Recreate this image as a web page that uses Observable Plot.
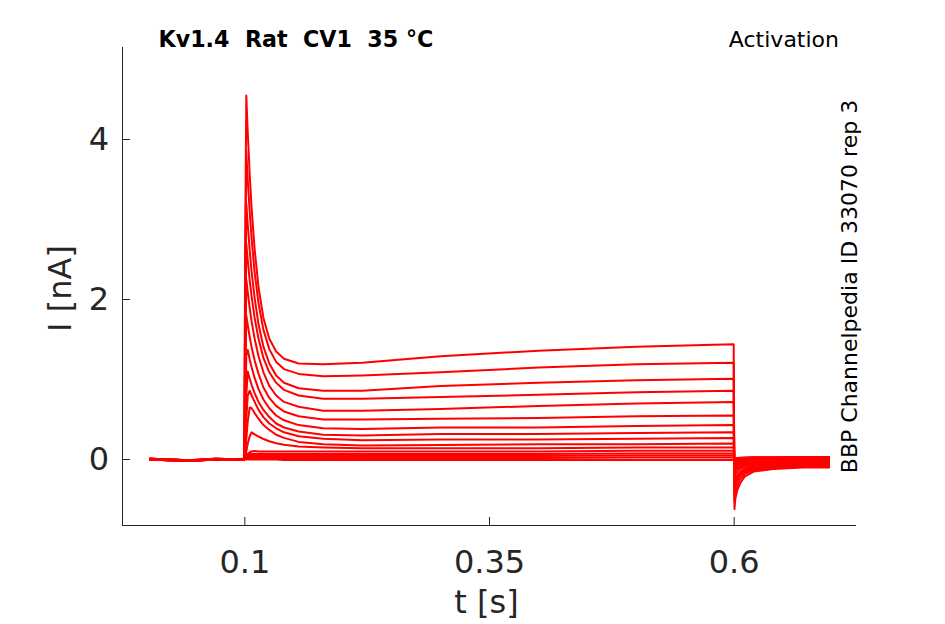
<!DOCTYPE html>
<html>
<head>
<meta charset="utf-8">
<script src="https://cdn.jsdelivr.net/npm/d3@7"></script>
<script src="https://cdn.jsdelivr.net/npm/@observablehq/plot@0.6"></script>
<style>
  html, body { margin: 0; padding: 0; background: #fff; }
  #chart { width: 945px; height: 624px; }
</style>
</head>
<body>
<div id="chart"></div>
<script>
// ---- data ----
const titleText = "Kv1.4  Rat  CV1  35 °C";
const protocolText = "Activation";
const sideText = "BBP Channelpedia ID 33070 rep 3";
const xLabel = "t [s]";
const yLabel = "I [nA]";
const xTicks = [0.1, 0.35, 0.6];
const yTicks = [0, 2, 4];
const xDomain = [-0.025, 0.725];
const yDomain = [-0.825, 5.15];

// sample times (s)
const times = [0.003, 0.042, 0.07, 0.0995, 0.1003, 0.1015, 0.103, 0.105, 0.107, 0.110, 0.114, 0.119, 0.125, 0.132, 0.14,
  0.155, 0.18, 0.22, 0.30, 0.40, 0.50, 0.5995,
  0.6003, 0.6012, 0.603, 0.606, 0.611, 0.62, 0.64, 0.67, 0.697];

// current (nA) of each sweep at those times
const sweep01 = [0, -0.02, 0, 0, 2.6, 4.55, 4.08, 3.56, 3.13, 2.63, 2.15, 1.77, 1.51, 1.35, 1.26,
  1.20, 1.19, 1.21, 1.29, 1.36, 1.41, 1.44,
  -0.62, -0.49, -0.39, -0.30, -0.21, -0.15, -0.12, -0.10, -0.10];
const sweep02 = [0.01, -0.01, 0.01, 0, 2.2, 3.85, 3.49, 3.09, 2.75, 2.34, 1.95, 1.62, 1.38, 1.22, 1.13,
  1.07, 1.04, 1.05, 1.09, 1.15, 1.19, 1.21,
  -0.52, -0.41, -0.33, -0.25, -0.18, -0.13, -0.11, -0.09, -0.09];
const sweep03 = [0, -0.02, 0, 0, 1.8, 3.2, 2.93, 2.61, 2.34, 2.02, 1.69, 1.41, 1.20, 1.05, 0.96,
  0.89, 0.86, 0.86, 0.92, 0.96, 0.99, 1.01,
  -0.43, -0.34, -0.27, -0.21, -0.16, -0.115, -0.095, -0.08, -0.08];
const sweep04 = [0.01, -0.01, 0, 0.01, 1.3, 2.7, 2.49, 2.24, 2.03, 1.77, 1.51, 1.27, 1.09, 0.96, 0.87,
  0.80, 0.76, 0.76, 0.78, 0.81, 0.84, 0.86,
  -0.37, -0.295, -0.235, -0.18, -0.135, -0.10, -0.08, -0.07, -0.07];
const sweep05 = [0, -0.02, 0.01, 0, 1.0, 2.25, 2.09, 1.89, 1.72, 1.51, 1.29, 1.09, 0.92, 0.80, 0.72,
  0.66, 0.61, 0.61, 0.63, 0.67, 0.70, 0.72,
  -0.31, -0.25, -0.20, -0.155, -0.115, -0.085, -0.07, -0.06, -0.06];
const sweep06 = [0.01, -0.01, 0, 0.01, 0.8, 1.8, 1.68, 1.53, 1.40, 1.24, 1.07, 0.90, 0.77, 0.67, 0.60,
  0.54, 0.50, 0.50, 0.51, 0.52, 0.54, 0.55,
  -0.24, -0.19, -0.155, -0.12, -0.09, -0.07, -0.058, -0.05, -0.05];
const sweep07 = [0, -0.02, 0, 0, 0.5, 1.3, 1.37, 1.25, 1.15, 1.02, 0.88, 0.75, 0.64, 0.55, 0.49,
  0.43, 0.39, 0.38, 0.40, 0.40, 0.42, 0.43,
  -0.19, -0.15, -0.12, -0.097, -0.073, -0.055, -0.046, -0.04, -0.04];
const sweep08 = [0.01, -0.01, 0.01, 0, 0.3, 0.8, 1.1, 1.01, 0.93, 0.83, 0.72, 0.62, 0.53, 0.45, 0.40,
  0.35, 0.31, 0.30, 0.32, 0.32, 0.33, 0.34,
  -0.15, -0.12, -0.096, -0.076, -0.056, -0.042, -0.035, -0.03, -0.03];
const sweep09 = [0, -0.02, 0, 0.01, 0.15, 0.5, 0.8, 0.86, 0.80, 0.72, 0.62, 0.53, 0.45, 0.39, 0.34,
  0.29, 0.26, 0.24, 0.25, 0.25, 0.26, 0.27,
  -0.12, -0.095, -0.075, -0.058, -0.042, -0.03, -0.024, -0.02, -0.02];
const sweep10 = [0.01, -0.01, 0, 0, 0.06, 0.25, 0.48, 0.65, 0.64, 0.58, 0.51, 0.43, 0.37, 0.31, 0.27,
  0.22, 0.19, 0.175, 0.18, 0.19, 0.19, 0.20,
  -0.09, -0.072, -0.058, -0.047, -0.035, -0.027, -0.023, -0.02, -0.02];
const sweep11 = [0, -0.02, 0.01, 0, 0.03, 0.1, 0.2, 0.29, 0.34, 0.315, 0.285, 0.256, 0.228, 0.204, 0.185,
  0.163, 0.15, 0.14, 0.14, 0.14, 0.15, 0.15,
  -0.07, -0.055, -0.043, -0.033, -0.023, -0.016, -0.012, -0.01, -0.01];
const sweep12 = [0.01, -0.01, 0, 0.01, 0.02, 0.05, 0.07, 0.09, 0.10, 0.105, 0.10, 0.10, 0.10, 0.10, 0.10,
  0.10, 0.10, 0.10, 0.10, 0.10, 0.11, 0.11,
  -0.05, -0.038, -0.028, -0.019, -0.011, -0.005, -0.002, 0, 0];
const sweep13 = [0, -0.02, 0, 0, 0.04, 0.07, 0.07, 0.07, 0.07, 0.07, 0.07, 0.07, 0.07, 0.07, 0.07,
  0.07, 0.07, 0.07, 0.07, 0.07, 0.075, 0.075,
  -0.03, -0.02, -0.012, -0.005, 0.001, 0.006, 0.008, 0.01, 0.01];
const sweep14 = [0.01, -0.01, 0.01, 0, 0.03, 0.045, 0.045, 0.045, 0.045, 0.045, 0.045, 0.045, 0.045, 0.045, 0.045,
  0.045, 0.045, 0.045, 0.045, 0.045, 0.05, 0.05,
  -0.02, -0.01, -0.002, 0.005, 0.011, 0.016, 0.018, 0.02, 0.02];
const sweep15 = [0, -0.02, 0, 0.01, 0.01, 0.02, 0.02, 0.02, 0.02, 0.02, 0.02, 0.02, 0.02, 0.02, 0.02,
  0.02, 0.02, 0.02, 0.02, 0.02, 0.025, 0.025,
  0, 0.008, 0.014, 0.019, 0.023, 0.027, 0.029, 0.03, 0.03];
const sweep16 = [0.01, -0.01, 0, 0, 0, 0, 0, 0, 0, 0, 0, 0, 0, 0, -0.005,
  -0.005, -0.005, -0.005, -0.005, -0.005, -0.005, -0.005,
  0.01, 0.015, 0.019, 0.022, 0.026, 0.028, 0.029, 0.03, 0.03];

const sweeps = [sweep01, sweep02, sweep03, sweep04, sweep05, sweep06, sweep07, sweep08,
  sweep09, sweep10, sweep11, sweep12, sweep13, sweep14, sweep15, sweep16];

const rows = sweeps.flatMap((vals, k) => vals.map((v, j) => ({t: times[j], i: v, sweep: k})));

const axisColor = "#262626";
const fmt = d => String(d);

const chart = Plot.plot({
  width: 945,
  height: 624,
  marginLeft: 122,
  marginRight: 89,
  marginTop: 47,
  marginBottom: 99,
  style: {fontFamily: "DejaVu Sans", background: "#ffffff", overflow: "visible"},
  x: {domain: xDomain},
  y: {domain: yDomain},
  marks: [
    Plot.line(rows, {x: "t", y: "i", z: "sweep", stroke: "#ff0000", strokeWidth: 2, strokeLinejoin: "round"}),
    Plot.ruleX([xDomain[0]], {stroke: axisColor, strokeWidth: 1}),
    Plot.ruleY([yDomain[0]], {stroke: axisColor, strokeWidth: 1}),
    Plot.axisX({ticks: xTicks, tickSize: -8, tickFormat: () => "", stroke: axisColor, label: null}),
    Plot.axisX({ticks: xTicks, tickSize: 0, tickPadding: 25, tickFormat: fmt, fontSize: 32, fill: axisColor, label: null}),
    Plot.axisY({ticks: yTicks, tickSize: -8, tickFormat: () => "", stroke: axisColor, label: null}),
    Plot.axisY({ticks: yTicks, tickSize: 0, tickPadding: 13.5, tickFormat: fmt, fontSize: 32, fill: axisColor, label: null}),
    Plot.text([xLabel], {text: d => d, frameAnchor: "bottom", dx: -3, dy: 87, textAnchor: "middle", lineAnchor: "bottom", fontSize: 32, fill: axisColor}),
    Plot.text([yLabel], {text: d => d, frameAnchor: "left", rotate: -90, dx: -52, dy: 2, textAnchor: "middle", lineAnchor: "bottom", fontSize: 32, fill: axisColor}),
    Plot.text([titleText], {text: d => d, frameAnchor: "top-left", dx: 36, dy: -0.5, textAnchor: "start", lineAnchor: "bottom", fontSize: 22.2, fontWeight: "bold", fill: "#000"}),
    Plot.text([protocolText], {text: d => d, frameAnchor: "top-right", dx: -17.5, dy: -1, textAnchor: "end", lineAnchor: "bottom", fontSize: 22, fill: "#000"}),
    Plot.text([sideText], {text: d => d, frameAnchor: "right", rotate: -90, dx: 0, dy: 0, textAnchor: "middle", lineAnchor: "bottom", fontSize: 22, fill: "#000"})
  ]
});
document.getElementById("chart").appendChild(chart);
</script>
</body>
</html>
